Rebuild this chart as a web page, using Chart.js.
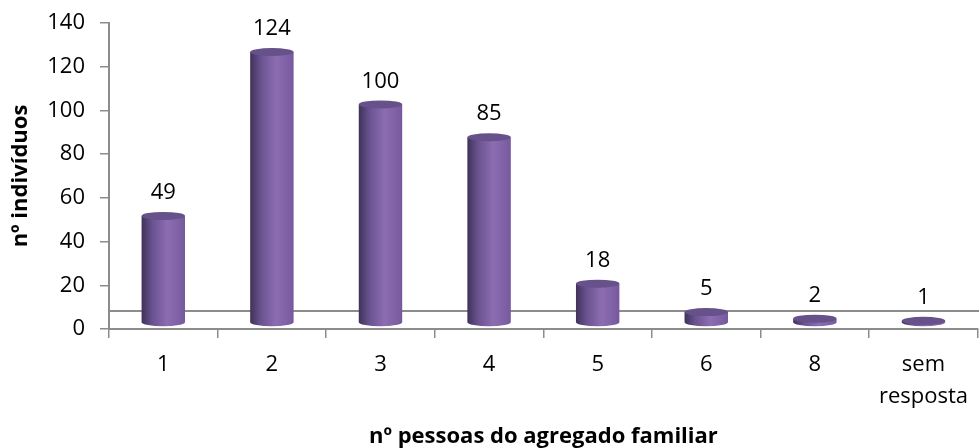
<!DOCTYPE html>
<html>
<head>
<meta charset="utf-8">
<script src="https://cdn.jsdelivr.net/npm/chart.js@4.4.0/dist/chart.umd.min.js"></script>
<style>
  html, body { margin: 0; padding: 0; background: #fff; }
  #wrap { width: 979px; height: 448px; }
</style>
</head>
<body>
<div id="wrap"><canvas id="myChart" width="979" height="448"></canvas></div>
<script>
// categorias e valores
const categories = ["1", "2", "3", "4", "5", "6", "8", ["sem", "resposta"]];
const values = [49, 124, 100, 85, 18, 5, 2, 1];
const yTicks = [0, 20, 40, 60, 80, 100, 120, 140];
const xTitle = "nº pessoas do agregado familiar";
const yTitle = "nº indivíduos";

const FONT = "'Open Sans', 'Noto Sans', sans-serif";
const LIFT = 6; // o "chão" 3D fica um pouco acima do eixo

// chão cinzento atrás das barras
const floorLine = {
  id: "floorLine",
  beforeDatasetsDraw: (chart) => {
    const ctx = chart.ctx;
    const area = chart.chartArea;
    const y = chart.scales.y.getPixelForValue(8.2);
    ctx.save();
    ctx.strokeStyle = "#8c8c8c";
    ctx.lineWidth = 2;
    ctx.beginPath();
    ctx.moveTo(area.left, y);
    ctx.lineTo(chart.width, y);
    ctx.stroke();
    ctx.restore();
  },
};

// cilindros e rótulos
const cylinders = {
  id: "cylinders",
  afterDatasetsDraw: (chart) => {
    const ctx = chart.ctx;
    const meta = chart.getDatasetMeta(0);
    ctx.save();
    meta.data.forEach((bar, i) => {
      const w = bar.width;
      const left = bar.x - w / 2;
      const right = bar.x + w / 2;
      const top = bar.y - LIFT;
      const bottom = bar.base - LIFT;
      const rx = w / 2;
      const ry = 4;

      const g = ctx.createLinearGradient(left, 0, right, 0);
      g.addColorStop(0, "#3f3259");
      g.addColorStop(0.25, "#6a5390");
      g.addColorStop(0.6, "#8d6db2");
      g.addColorStop(1, "#76599c");

      // corpo
      ctx.fillStyle = g;
      ctx.beginPath();
      ctx.moveTo(left, top);
      ctx.lineTo(left, bottom);
      ctx.ellipse(bar.x, bottom, rx, ry, 0, Math.PI, 0, true);
      ctx.lineTo(right, top);
      ctx.closePath();
      ctx.fill();

      // tampa
      ctx.fillStyle = "#67518a";
      ctx.beginPath();
      ctx.ellipse(bar.x, top, rx, ry, 0, 0, Math.PI * 2);
      ctx.fill();

      // rótulo
      ctx.fillStyle = "#000";
      ctx.font = "22px " + FONT;
      ctx.textAlign = "center";
      ctx.textBaseline = "middle";
      ctx.fillText(values[i], bar.x, top - 23);
    });
    ctx.restore();
  },
};

const data = {
  labels: categories,
  datasets: [
    {
      data: values,
      backgroundColor: "rgba(0,0,0,0)",
      borderWidth: 0,
      categoryPercentage: 1,
      barPercentage: 0.4,
    },
  ],
};

const config = {
  type: "bar",
  data: data,
  plugins: [floorLine, cylinders],
  options: {
    responsive: false,
    animation: false,
    layout: { padding: { top: 23, right: 0, left: 0, bottom: 0 } },
    plugins: {
      legend: { display: false },
      tooltip: { enabled: false },
    },
    scales: {
      x: {
        afterFit: (scale) => { scale.height = 119; },
        grid: {
          offset: true,
          drawOnChartArea: false,
          drawTicks: true,
          tickLength: 9,
          color: "#8c8c8c",
          lineWidth: 1.5,
        },
        border: { color: "#8c8c8c", width: 2 },
        ticks: {
          color: "#000",
          font: { family: FONT, size: 22, lineHeight: 1.45 },
          padding: 11,
          maxRotation: 0,
        },
        title: {
          display: true,
          text: xTitle,
          color: "#000",
          font: { family: FONT, size: 22, weight: "bold", lineHeight: 1 },
          padding: { top: 0, bottom: 0 },
        },
      },
      y: {
        min: 0,
        max: 140,
        afterFit: (scale) => { scale.width = 109; },
        afterBuildTicks: (scale) => {
          scale.ticks = yTicks.map((v) => ({ value: v }));
        },
        grid: {
          drawOnChartArea: false,
          drawTicks: true,
          tickLength: 9,
          color: "#8c8c8c",
          lineWidth: 1.5,
        },
        border: { color: "#8c8c8c", width: 2 },
        ticks: {
          color: "#000",
          font: { family: FONT, size: 22, lineHeight: 0.6 },
          padding: 15,
        },
        title: {
          display: true,
          text: yTitle,
          color: "#000",
          font: { family: FONT, size: 22, weight: "bold" },
          padding: { top: 8, bottom: 4 },
        },
      },
    },
  },
};

const myChart = new Chart(document.getElementById("myChart"), config);
</script>
</body>
</html>
